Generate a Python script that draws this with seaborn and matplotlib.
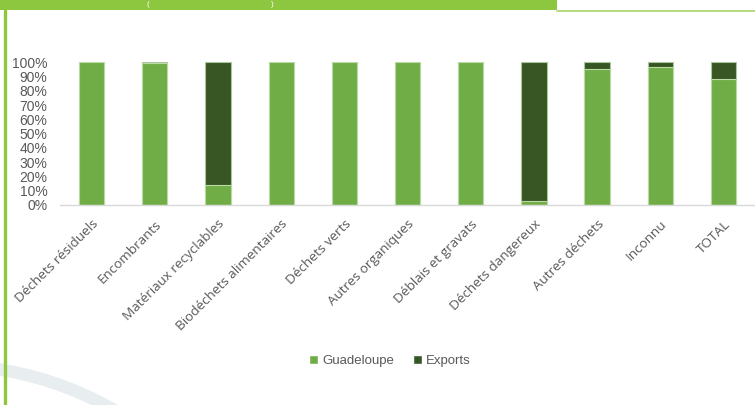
import matplotlib
matplotlib.use('Agg')
import matplotlib.pyplot as plt
import matplotlib.transforms as mtransforms
import seaborn as sns
import pandas as pd
from matplotlib.patches import Rectangle, Arc, Patch
from matplotlib.lines import Line2D

# --- data (share of tonnage treated, %) ---
categories = ['Déchets résiduels', 'Encombrants', 'Matériaux recyclables',
              'Biodéchets alimentaires', 'Déchets verts', 'Autres organiques',
              'Déblais et gravats', 'Déchets dangereux', 'Autres déchets',
              'Inconnu', 'TOTAL']
guadeloupe = [100, 99.6, 14, 100, 100, 100, 100, 3, 95, 97, 88]
exports = [0, 0.4, 86, 0, 0, 0, 0, 97, 5, 3, 12]

light = '#70AD47'
dark = '#375623'
grey_txt = '#595959'

df = pd.DataFrame({'cat': categories,
                   'guadeloupe': [g / 100 for g in guadeloupe],
                   'total': [(g + e) / 100 for g, e in zip(guadeloupe, exports)]})

sns.set_style('white')
plt.rcParams['font.family'] = ['Liberation Sans', 'DejaVu Sans']

fig = plt.figure(figsize=(7.55, 4.05), dpi=100)
ax = fig.add_axes([60 / 755, 1 - 205 / 405, 695 / 755, (205 - 62.3) / 405])

# stacked: full height in dark first, then Guadeloupe share on top of it
sns.barplot(data=df, x='cat', y='total', color=dark, width=0.4,
            edgecolor='#a9c79a', linewidth=0.8, saturation=1, ax=ax)
sns.barplot(data=df, x='cat', y='guadeloupe', color=light, width=0.4,
            edgecolor='#b9d9a5', linewidth=0.8, saturation=1, ax=ax)

ax.set_xlim(-0.5, len(categories) - 0.5)
ax.set_ylim(0, 1)
ax.set_yticks([i / 10 for i in range(11)])
ax.set_yticklabels([f'{i * 10}%' for i in range(11)], fontsize=10, color=grey_txt)
ax.set_xlabel('')
ax.set_ylabel('')
ax.tick_params(axis='x', length=0, pad=9)
ax.tick_params(axis='y', length=0, pad=9)
shift = mtransforms.ScaledTranslation(0, 0, fig.dpi_scale_trans)
for lab in ax.get_xticklabels():
    lab.set_rotation(45)
    lab.set_ha('right')
    lab.set_rotation_mode('anchor')
    lab.set_fontsize(9.7)
    lab.set_family(['Open Sans', 'DejaVu Sans'])
    lab.set_color(grey_txt)
    lab.set_transform(lab.get_transform() + shift)
for s in ['top', 'right', 'left']:
    ax.spines[s].set_visible(False)
ax.spines['bottom'].set_color('#d9d9d9')
ax.spines['bottom'].set_linewidth(1)

# legend
handles = [Patch(facecolor=light, label='Guadeloupe'),
           Patch(facecolor=dark, label='Exports')]
fig.legend(handles=handles, loc='center', bbox_to_anchor=(390 / 755, 1 - 361 / 405),
           ncol=2, frameon=False, fontsize=9.5, handlelength=0.7, handleheight=0.7,
           handletextpad=0.3, columnspacing=1.4, labelcolor=grey_txt)

# page decoration: banner, frame lines, faint arc
green = '#8DC63F'
fig.add_artist(Rectangle((0, 1 - 10 / 405), 557 / 755, 10 / 405,
                         transform=fig.transFigure, color=green, lw=0))
fig.add_artist(Line2D([557 / 755, 1], [1 - 10.5 / 405] * 2,
                      transform=fig.transFigure, color='#a8d46a', lw=1.2))
fig.add_artist(Line2D([4.8 / 755] * 2, [0, 1 - 10 / 405],
                      transform=fig.transFigure, color=green, lw=2.4))
fig.text(148 / 755, 1 - 5 / 405, '(', color='white', fontsize=6, ha='center', va='center')
fig.text(272 / 755, 1 - 5 / 405, ')', color='white', fontsize=6, ha='center', va='center')
r = 340
fig.add_artist(Arc((-55 / 755, 1 - 705 / 405), 2 * r / 755, 2 * r / 405,
                   theta1=40, theta2=100, transform=fig.transFigure,
                   color='#e8edf0', lw=9, zorder=0))

fig.savefig('out.png', dpi=100)
